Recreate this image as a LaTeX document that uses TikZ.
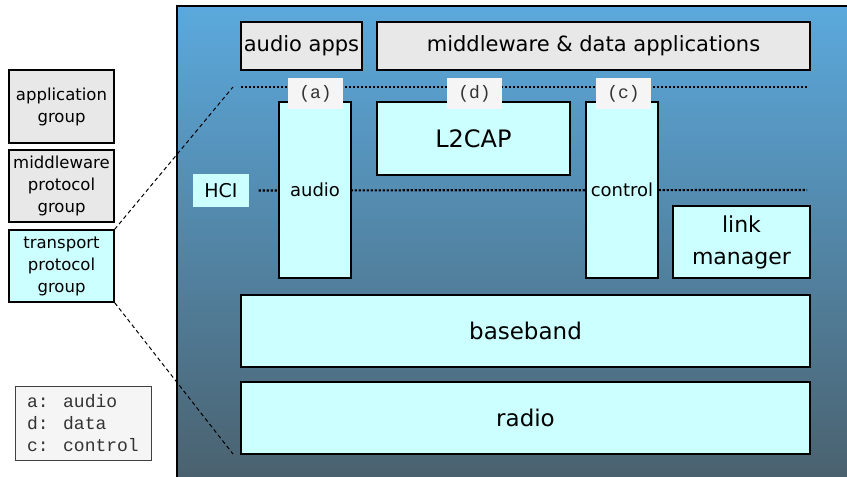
\documentclass[tikz,border=0pt]{standalone}
\usepackage{fontspec}
\setmainfont{DejaVu Sans}
\newfontfamily\tagfont{Liberation Mono}
\usetikzlibrary{positioning, calc}
\definecolor{boxcyan}{HTML}{CCFFFF}
\definecolor{boxgray}{HTML}{E8E8E8}
\definecolor{tagbg}{HTML}{F5F5F5}
\definecolor{paneltop}{HTML}{5BA9DD}
\definecolor{panelbot}{HTML}{4A616E}

\begin{document}
\begin{tikzpicture}[x=1pt, y=-1pt, line width=1.3pt,
  layer/.style={rectangle, draw, fill=boxcyan, inner sep=0pt, align=center,
    font=\fontsize{23}{30}\selectfont},
  appbox/.style={layer, fill=boxgray, minimum height=48pt, font=\fontsize{21}{26}\selectfont},
  column/.style={layer, minimum width=72pt, minimum height=176pt, font=\fontsize{18}{22}\selectfont},
  tag/.style={rectangle, fill=tagbg, inner sep=0pt, minimum width=55pt, minimum height=31pt,
    text=black!80, font=\tagfont\fontsize{18}{20}\selectfont},
  group/.style={rectangle, draw, fill=boxgray, inner sep=0pt, minimum width=105pt,
    minimum height=72pt, align=center, font=\fontsize{16.5}{22}\selectfont},
  sep/.style={line width=2.2pt, dash pattern=on 2.2pt off 1.8pt},
  zoom/.style={line width=1pt, dash pattern=on 4pt off 3pt}]
  \useasboundingbox (0,0) rectangle (847,477);
  \shade[top color=paneltop, bottom color=panelbot, draw=black] (177,6) rectangle (852,482);

  \node[appbox, minimum width=121pt] (audioapps) at (301.5,46) {audio apps};
  \node[appbox, minimum width=433pt] (mwapps) at (593.5,46) {middleware \& data applications};

  \coordinate (upL) at (241,87);
  \coordinate (upR) at (808,87);
  \draw[sep] (upL) -- (upR);

  \node[layer, draw=none, minimum width=56pt, minimum height=33pt,
    font=\fontsize{19}{22}\selectfont] (hci) at (221,190.5) {HCI};
  \coordinate (hciR) at (807,190);
  \draw[sep, shorten <=9pt] (hci) -- (hciR);

  \node[column] (audio) at (315,190) {audio};
  \node[column] (control) at (622,190) {control};
  \node[layer, minimum width=193pt, minimum height=73pt, font=\fontsize{24}{30}\selectfont]
    (l2cap) at (473.5,138.5) {L2CAP};
  \node[layer, minimum width=137pt, minimum height=72pt, font=\fontsize{22}{32}\selectfont]
    (linkmgr) at (741.5,242) {link\\manager};
  \node[layer, minimum width=569pt, minimum height=72pt] (baseband) at (525.5,331) {baseband};
  \node[layer, minimum width=569pt, minimum height=72pt] (radio) at (525.5,418) {radio};

  \node[tag] (taga) at (315.5,93.5) {(a)};
  \node[tag] (tagd) at (474.5,93.5) {(d)};
  \node[tag] (tagc) at (623.5,93.5) {(c)};

  \node[group, minimum height=73pt] (appgrp) at (61.5,106.5) {application\\group};
  \node[group] (mwgrp) at (61.5,186) {middleware\\protocol\\group};
  \node[group, fill=boxcyan] (trgrp) at (61.5,266) {transport\\protocol\\group};

  \node[rectangle, draw=black!75, line width=1pt, fill=tagbg, inner sep=0pt,
    minimum width=136pt, minimum height=74pt, align=left, text=black!80,
    font=\tagfont\fontsize{18}{22}\selectfont] (legend) at (83,423)
    {a: audio\\d: data\\c: control};

  \coordinate (zoomtop) at (233,87);
  \coordinate (zoombot) at (233,454);
  \draw[zoom] (trgrp.north east) -- (zoomtop);
  \draw[zoom] (trgrp.south east) -- (zoombot);
\end{tikzpicture}
\end{document}
